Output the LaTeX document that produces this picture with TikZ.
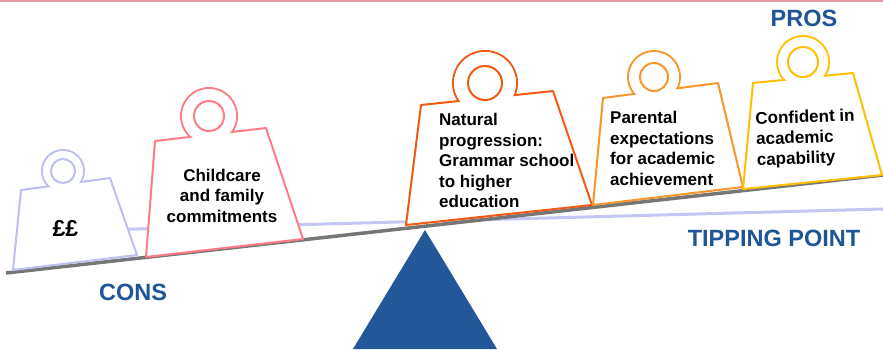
\documentclass[tikz,border=0pt]{standalone}
\usepackage{fontspec}
\setmainfont{Liberation Sans}
\usetikzlibrary{positioning}

\definecolor{labelblue}{HTML}{1F5597}
\definecolor{pivotblue}{HTML}{225897}
\definecolor{topline}{HTML}{E995A3}
\definecolor{beamgrey}{HTML}{767676}
\definecolor{levelblue}{HTML}{C3C6F2}
\definecolor{wlavender}{HTML}{BCC0F0}
\definecolor{wpink}{HTML}{FF7C84}
\definecolor{wred}{HTML}{F25A12}
\definecolor{worange}{HTML}{F7962A}
\definecolor{wyellow}{HTML}{FFC000}

% colour, bottom left, bottom right, top right, top left, ring centre, outer and inner radius
\newcommand{\drawweight}[8]{%
  \draw[#1,weightline] #6 circle[radius=#7pt];
  \filldraw[#1,weightline,fill=white] #2 -- #3 -- #4 -- #5 -- cycle;
  \fill[white] #6 circle[radius=#7pt-1.1pt];
  \draw[#1,weightline] #6 circle[radius=#8pt];
}

\begin{document}
\begin{tikzpicture}[x=1pt,y=-1pt,
	weightline/.style={line width=2pt,line join=round},
	weighttext/.style={font=\bfseries\fontsize{17}{20.5}\selectfont,inner sep=0pt,align=left},
	sidelabel/.style={font=\bfseries\fontsize{23.5}{28}\selectfont,text=labelblue,inner sep=0pt},
	beam/.style={draw=beamgrey,line width=3.5pt},
	levelline/.style={draw=levelblue,line width=3pt}]
\useasboundingbox (0,0) rectangle (883,349);
\draw[topline,line width=2pt] (0,0.5) -- (883,0.5);
% level line and beam
\path[levelline] (100,230) -- (883,209);
\path[beam] (6,273) -- (883,175);
\fill[pivotblue] (425,230) -- (497,349) -- (353,349) -- cycle;
% weights
\drawweight{wlavender}{(13,270)}{(137,255)}{(110,178)}{(21,190)}{(63,171)}{21}{12}
\drawweight{wpink}{(146,257)}{(303,239)}{(266,128)}{(155,141)}{(209,116)}{28}{15}
\drawweight{wred}{(406,225)}{(592,205)}{(553,91)}{(421,105)}{(485,83)}{32}{17}
\drawweight{worange}{(593,205)}{(743,187)}{(718,83)}{(603,98)}{(654,77)}{26}{14}
\drawweight{wyellow}{(743,189)}{(882,175)}{(853,73)}{(753,83)}{(803,62)}{26}{15}
\node[weighttext,font=\bfseries\fontsize{23}{26}\selectfont] (pounds) at (65.5,228.5) {££};
\node[weighttext,align=center] (childcare) at (222,195.5) {Childcare\\and family\\commitments};
\node[weighttext,anchor=west] (natural) at (439,160.5) {Natural\\progression:\\Grammar school\\to higher\\education};
\node[weighttext,anchor=west] (parental) at (610,148.5) {Parental\\expectations\\for academic\\achievement};
\node[weighttext,anchor=west,rotate=2] (confident) at (756,140.5) {Confident in\\academic\\capability};
% labels
\node[sidelabel] (cons) at (133,292) {CONS};
\node[sidelabel] (pros) at (804,18.5) {PROS};
\node[sidelabel] (tipping) at (774,238) {TIPPING POINT};
\end{tikzpicture}
\end{document}
